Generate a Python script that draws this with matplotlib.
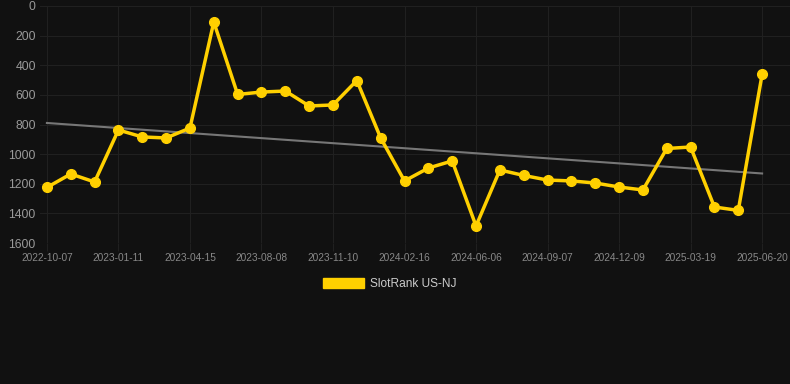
import numpy as np
import matplotlib as mpl
import matplotlib.pyplot as plt
import matplotlib.patches as mpatches

# Data (rank, lower is better)
tick_labels = ["2022-10-07", "2023-01-11", "2023-04-15", "2023-08-08", "2023-11-10",
               "2024-02-16", "2024-06-06", "2024-09-07", "2024-12-09", "2025-03-19",
               "2025-06-20"]
rank = [1225, 1134, 1188, 837, 884, 891, 824, 108, 597, 581,
        574, 675, 668, 503, 891, 1181, 1094, 1046, 1485, 1107,
        1144, 1175, 1181, 1195, 1222, 1242, 962, 952, 1357, 1380,
        462]
series_name = "SlotRank US-NJ"

BG = "#111111"
GRID = "#202020"
YELLOW = "#ffd000"

mpl.rcParams["font.family"] = ["Liberation Sans", "DejaVu Sans"]

fig = plt.figure(figsize=(7.9, 3.84), dpi=100, facecolor=BG)
ax = fig.add_axes([40/790, (384-243)/384, 750/790, 237/384], facecolor=BG)

x = np.arange(len(rank))
y = np.array(rank)

# trend line (least squares)
k, b = np.polyfit(x, y, 1)
ax.plot([x[0], x[-1]], [k*x[0]+b, k*x[-1]+b], color="#777777", lw=1.5, zorder=2)

ax.plot(x, y, color=YELLOW, lw=2.5, marker="o", markersize=7, zorder=3, clip_on=False)

ax.set_ylim(1600, 0)
ax.set_xlim(-0.29, 31.17)
ax.set_yticks(range(0, 1601, 200))
ax.set_xticks(x[::3])
ax.set_xticklabels(tick_labels)

ax.grid(True, color=GRID, lw=0.8)
ax.set_axisbelow(True)
for s in ax.spines.values():
    s.set_visible(False)
ax.tick_params(axis="y", length=0, pad=3, labelsize=8.8, labelcolor="#999999")
ax.tick_params(axis="x", length=6, color=GRID, pad=1, labelsize=7.3, labelcolor="#888888")

fig.legend(handles=[mpatches.Patch(color=YELLOW, label=series_name)],
           loc="center", bbox_to_anchor=(390/790, 1 - 284/384), frameon=False,
           fontsize=8.6, labelcolor="#cccccc", handlelength=3.4, handleheight=1.0,
           handletextpad=0.5)

fig.savefig("out.png", dpi=100, facecolor=BG)
